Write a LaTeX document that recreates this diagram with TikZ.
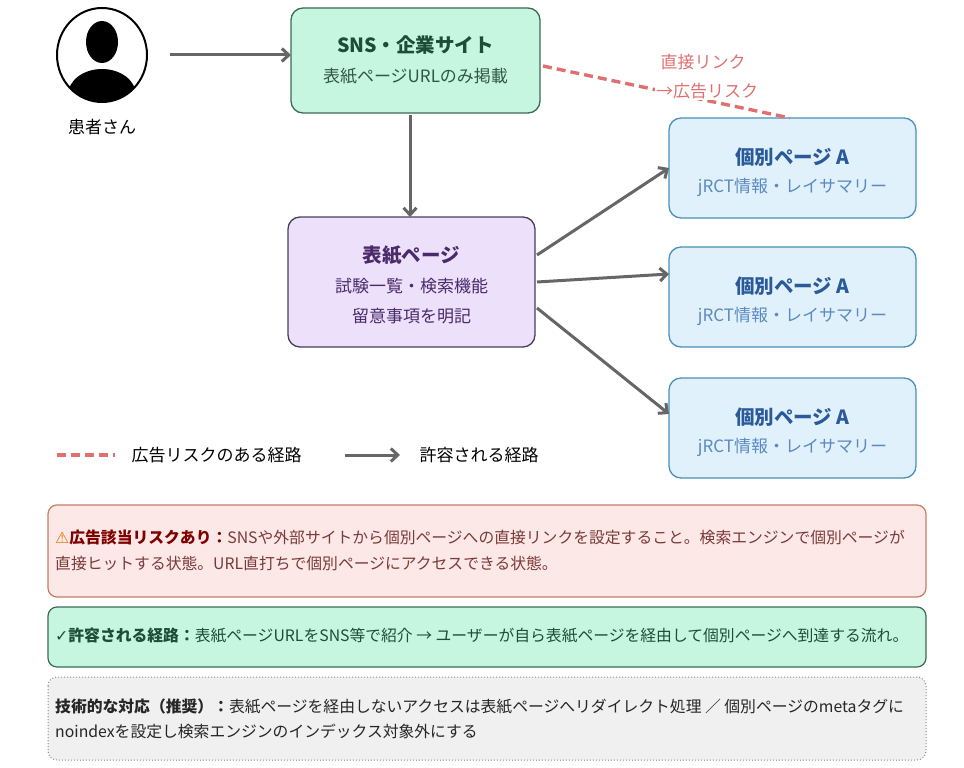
\documentclass[tikz,border=0pt]{standalone}
\usepackage{fontspec}
\setmainfont{Noto Sans CJK JP}
\newfontfamily\symfont{DejaVu Sans}
\usetikzlibrary{arrows.meta,positioning}
\definecolor{snsfill}{HTML}{C6F6E0}
\definecolor{snsdraw}{HTML}{3C6B55}
\definecolor{snstext}{HTML}{1E4D36}
\definecolor{covfill}{HTML}{ECE0FA}
\definecolor{covdraw}{HTML}{4A3D5A}
\definecolor{covtext}{HTML}{4A2A6A}
\definecolor{indfill}{HTML}{E1F1FC}
\definecolor{inddraw}{HTML}{4A90B8}
\definecolor{indtitle}{HTML}{2A5A9A}
\definecolor{indsub}{HTML}{5A8AC0}
\definecolor{riskred}{HTML}{E07070}
\definecolor{riskfill}{HTML}{FCE8E6}
\definecolor{riskdraw}{HTML}{C87A62}
\definecolor{risktext}{HTML}{7A3A3A}
\definecolor{arrowgray}{HTML}{666666}

\begin{document}
\begin{tikzpicture}[x=1pt,y=-1pt,
    box/.style={draw,line width=1.3pt,rounded corners=12pt,anchor=north west},
    note/.style={draw,line width=1.2pt,rounded corners=9pt},
    flow/.style={draw=arrowgray,line width=3pt,-{Straight Barb[length=7pt,width=13pt]}},
    risk/.style={draw=riskred,line width=3.4pt,dash pattern=on 9pt off 5pt},
    ttl/.style={font=\fontsize{19.5}{22}\selectfont\bfseries},
    sub/.style={font=\fontsize{17}{20}\selectfont},
    txt/.style={font=\fontsize{15.8}{18}\selectfont,anchor=west,inner sep=0pt}]
\useasboundingbox (0,0) rectangle (964,768);

% patient icon
\begin{scope}
\clip (102,55) ellipse (45pt and 47pt);
\fill[white] (102,55) ellipse (45pt and 47pt);
\fill[black] (102,42) ellipse (16pt and 21pt);
\fill[black] (102,95) ellipse (34pt and 26pt);
\end{scope}
\draw[line width=2pt] (102,55) ellipse (45pt and 47pt);
\coordinate (patient) at (149,55);
\node[sub] (patientlbl) at (102,127) {患者さん};

% boxes
\path[box,fill=snsfill,draw=snsdraw] (291,8) rectangle (540,113);
\node[ttl,text=snstext] (sns) at (415.5,45) {SNS・企業サイト};
\node[sub,text=snsdraw!80!black] (snssub) at (415.5,76) {表紙ページURLのみ掲載};
\coordinate (snsW) at (291,55);
\coordinate (snsS) at (410,113);
\coordinate (snsE) at (543,66);

\path[box,fill=covfill,draw=covdraw] (288,217) rectangle (535,347);
\node[ttl,text=covtext] (cover) at (411.5,255) {表紙ページ};
\node[sub,text=covtext] (coversub) at (411.5,286) {試験一覧・検索機能};
\node[sub,text=covtext] at (411.5,316) {留意事項を明記};
\coordinate (coverN) at (410,217);

\foreach \i/\y in {1/118,2/247,3/378}{
  \path[box,fill=indfill,draw=inddraw] (669,\y) rectangle (916,\y+100);
  \node[ttl,text=indtitle] (ind\i) at (792.5,\y+39) {個別ページ A};
  \node[sub,text=indsub] (ind\i sub) at (792.5,\y+69) {jRCT情報・レイサマリー};
}
\coordinate (ind1N) at (790,118);

% connectors
\draw[flow] (patient) ++(21,0) -- (snsW);
\draw[flow] (snsS) ++(0,2) -- (coverN);
\draw[flow] (537,255) -- (669,168);
\draw[flow] (537,282) -- (669,274);
\draw[flow] (537,308) -- (669,414);
\draw[risk] (snsE) -- (ind1N);
\node[sub,text=riskred] (risklbl) at (703,62) {直接リンク};
\node[sub,text=riskred,fill=white,inner sep=1pt] at (707,91) {→広告リスク};

% legend
\draw[risk] (57,455) -- (115,455);
\node[sub,anchor=west] (legrisk) at (128,455) {広告リスクのある経路};
\draw[flow] (345,455) -- (400,455);
\node[sub,anchor=west] (legok) at (416,455) {許容される経路};

% notes
\draw[note,fill=riskfill,draw=riskdraw] (48,505) rectangle (926,597);
\node[txt,text=risktext] at (55,537) {{\symfont\color{orange!90!black}⚠}\textbf{\color{red!50!black}広告該当リスクあり：}SNSや外部サイトから個別ページへの直接リンクを設定すること。検索エンジンで個別ページが};
\node[txt,text=risktext] at (55,563) {直接ヒットする状態。URL直打ちで個別ページにアクセスできる状態。};
\draw[note,fill=snsfill,draw=snsdraw] (48,607) rectangle (926,667);
\node[txt,text=snstext] at (55,636) {{\symfont ✓}\textbf{許容される経路：}表紙ページURLをSNS等で紹介 → ユーザーが自ら表紙ページを経由して個別ページへ到達する流れ。};
\draw[note,fill=black!6,draw=black!45,line width=1pt,dotted] (48,677) rectangle (926,760);
\node[txt,text=black!85] at (55,706) {\textbf{技術的な対応（推奨）：}表紙ページを経由しないアクセスは表紙ページへリダイレクト処理 ／ 個別ページのmetaタグに};
\node[txt,text=black!85] at (55,731) {noindexを設定し検索エンジンのインデックス対象外にする};
\end{tikzpicture}
\end{document}
